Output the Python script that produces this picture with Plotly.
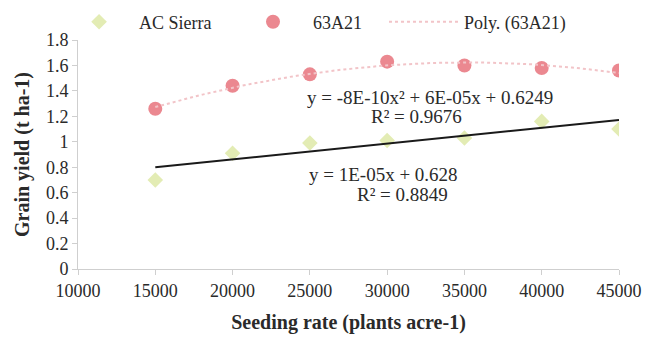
import numpy as np
import plotly.graph_objects as go

seeding_rate = [15000, 20000, 25000, 30000, 35000, 40000, 45000]
ac_sierra = [0.70, 0.91, 0.99, 1.01, 1.03, 1.16, 1.10]
a63a21 = [1.26, 1.44, 1.53, 1.63, 1.60, 1.58, 1.56]
x_ticks = [10000, 15000, 20000, 25000, 30000, 35000, 40000, 45000]
y_ticks = [0, 0.2, 0.4, 0.6, 0.8, 1, 1.2, 1.4, 1.6, 1.8]
y_tick_text = ["0", "0.2", "0.4", "0.6", "0.8", "1", "1.2", "1.4", "1.6", "1.8"]

xs = np.array(seeding_rate, dtype=float)
lin = np.polyfit(xs, ac_sierra, 1)
poly = np.polyfit(xs, a63a21, 2)
xfit = np.linspace(xs.min(), xs.max(), 60)

serif = "Liberation Serif"
txt = "#2a2a2a"
fig = go.Figure()
fig.add_trace(go.Scatter(x=seeding_rate, y=ac_sierra, mode="markers", name="AC Sierra",
                         marker=dict(symbol="diamond", size=12, color="#e3ecb4"),
                         legend="legend"))
fig.add_trace(go.Scatter(x=seeding_rate, y=a63a21, mode="markers", name="63A21",
                         marker=dict(symbol="circle", size=14, color="#eb8890"),
                         legend="legend2"))
fig.add_trace(go.Scatter(x=xfit, y=np.polyval(poly, xfit), mode="lines", name="Poly. (63A21)",
                         line=dict(color="#f2c4c8", width=2, dash="dot"),
                         legend="legend3"))
fig.add_trace(go.Scatter(x=xfit, y=np.polyval(lin, xfit), mode="lines", name="Linear (AC Sierra)",
                         line=dict(color="#1a1a1a", width=2), showlegend=False))

leg_font = dict(family=serif, size=18, color=txt)
leg_common = dict(yref="container", y=0.935, xanchor="left", yanchor="middle", orientation="h",
                  font=leg_font, bgcolor="rgba(0,0,0,0)", itemwidth=70)
fig.update_layout(
    width=645, height=339,
    margin=dict(l=78, r=26, t=40, b=70, autoexpand=False),
    paper_bgcolor="white", plot_bgcolor="white",
    font=dict(family=serif, size=18, color=txt),
    legend=dict(x=-0.035, **leg_common),
    legend2=dict(x=0.2865, **leg_common),
    legend3=dict(x=0.5656, **leg_common),
    xaxis=dict(range=[10000, 45000], tickvals=x_ticks, ticktext=[str(v) for v in x_ticks],
               showgrid=False, zeroline=False, showline=True, linecolor="#cfcfcf", linewidth=1,
               ticks="outside", ticklen=5, tickcolor="#cfcfcf", automargin=False,
               tickfont=dict(family=serif, size=18, color=txt),
               title=dict(text="<b>Seeding rate (plants acre-1)</b>", standoff=15,
                          font=dict(family=serif, size=20, color=txt))),
    yaxis=dict(range=[0, 1.8], tickvals=y_ticks, ticktext=y_tick_text,
               showgrid=False, zeroline=False, showline=True, linecolor="#cfcfcf", linewidth=1,
               ticks="outside", ticklen=5, tickcolor="#cfcfcf", automargin=False,
               tickfont=dict(family=serif, size=18, color=txt),
               title=dict(text="<b>Grain yield (t ha-1)</b>", standoff=10,
                          font=dict(family=serif, size=20, color=txt))),
)
ann_font = dict(family=serif, size=19, color=txt)
fig.add_annotation(x=32773, y=1.352, xref="x", yref="y", showarrow=False,
                   text="y = -8E-10x² + 6E-05x + 0.6249", font=ann_font)
fig.add_annotation(x=31867, y=1.195, xref="x", yref="y", showarrow=False,
                   text="R² = 0.9676", font=ann_font)
fig.add_annotation(x=29732, y=0.739, xref="x", yref="y", showarrow=False,
                   text="y = 1E-05x + 0.628", font=ann_font)
fig.add_annotation(x=30961, y=0.582, xref="x", yref="y", showarrow=False,
                   text="R² = 0.8849", font=ann_font)
fig.write_html("out.html", config={"displayModeBar": False},
               post_script="document.body.style.margin='0px';")
